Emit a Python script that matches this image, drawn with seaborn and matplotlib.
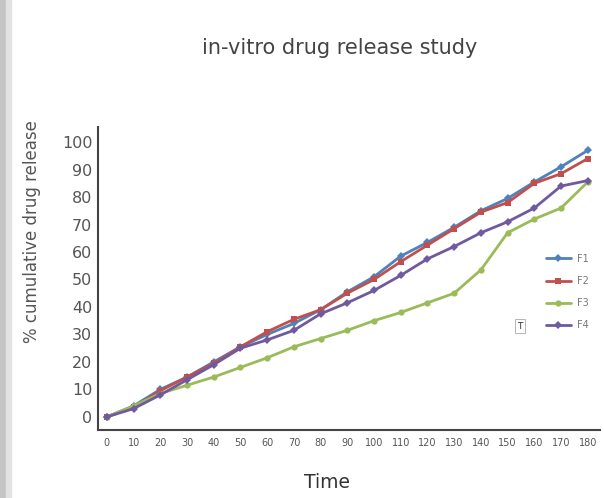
import matplotlib as mpl
mpl.use('Agg')
import matplotlib.pyplot as plt
import numpy as np
import pandas as pd
import seaborn as sns

time = [0, 10, 20, 30, 40, 50, 60, 70, 80, 90, 100, 110, 120, 130, 140, 150, 160, 170, 180]
f1 = [0, 4, 10, 14.5, 20, 25.5, 30, 34, 39, 45.5, 51, 58.5, 63.5, 69, 75, 79.5, 85.5, 91, 97]
f2 = [0, 3.5, 9.5, 14.5, 19.5, 25.5, 31, 35.5, 39, 45, 50, 56.5, 62.5, 68.5, 74.5, 78, 85, 88.5, 94]
f3 = [0, 4, 8.5, 11.5, 14.5, 18, 21.5, 25.5, 28.5, 31.5, 35, 38, 41.5, 45, 53.5, 67, 72, 76, 85.5]
f4 = [0, 3, 8, 13.5, 19, 25, 28, 31.5, 37.5, 41.5, 46, 51.5, 57.5, 62, 67, 71, 76, 84, 86]
series_names = ['F1', 'F2', 'F3', 'F4']
yticks = [0, 10, 20, 30, 40, 50, 60, 70, 80, 90, 100]

df = pd.DataFrame({'time': time, 'F1': f1, 'F2': f2, 'F3': f3, 'F4': f4})
long = pd.melt(df, id_vars='time', var_name='series', value_name='release')

sns.set_style('white')
plt.rcParams['font.family'] = ['DejaVu Sans']

pal = {'F1': '#4f81bd', 'F2': '#c0504d', 'F3': '#9bbb59', 'F4': '#6f5aa0'}
marks = {'F1': 'D', 'F2': 's', 'F3': 'o', 'F4': 'D'}

fig = plt.figure(figsize=(6.04, 4.98), dpi=100)
ax = fig.add_axes([0.162, 0.137, 0.831, 0.608])

sns.lineplot(data=long, x='time', y='release', hue='series', style='series',
             palette=pal, markers=marks, dashes=False, linewidth=2,
             markersize=4.5, markeredgewidth=0, ax=ax)

ax.set_xlim(-3.4, 184.5)
ax.set_ylim(-4.7, 105.5)
ax.set_xticks(time)
ax.set_xticklabels([str(t) for t in time], fontsize=7, color='#555555')
ax.set_yticks(yticks)
ax.set_yticklabels([str(t) for t in yticks], fontsize=11.5, color='#555555')
ax.tick_params(length=0, pad=4)
ax.tick_params(axis='x', pad=6)

for s in ['top', 'right']:
    ax.spines[s].set_visible(False)
for s in ['left', 'bottom']:
    ax.spines[s].set_color('#444444')
    ax.spines[s].set_linewidth(1.5)

ax.set_xlabel('Time', fontsize=13.5, color='#333333')
ax.xaxis.set_label_coords((327 - 98) / 502, -0.143)
ax.set_ylabel('% cumulative drug release', fontsize=12, color='#555555')
ax.yaxis.set_label_coords(-0.113, 0.655)

h, l = ax.get_legend_handles_labels()
ax.legend(h, l, loc='upper left', bbox_to_anchor=(0.875, 0.61), frameon=False,
          fontsize=7, labelspacing=1.25, handlelength=2.6, handletextpad=0.6,
          labelcolor='#777777')

fig.text(340 / 604, 1 - 48 / 498, 'in-vitro drug release study', ha='center', va='center',
         fontsize=15, color='#444444')
fig.text(520 / 604, 1 - 326 / 498, 'T', ha='center', va='center', fontsize=6.5,
         color='#333333', bbox=dict(boxstyle='square,pad=0.25', fc='white', ec='#aaaaaa', lw=0.6))

# soft grey edge on the left
fig.patches.append(mpl.patches.Rectangle((0, 0), 6 / 604, 1, transform=fig.transFigure,
                                         color='#c4c4c4', zorder=0))
fig.patches.append(mpl.patches.Rectangle((6 / 604, 0), 5 / 604, 1, transform=fig.transFigure,
                                         color='#e2e2e2', zorder=0))

fig.savefig('out.png', dpi=100)
